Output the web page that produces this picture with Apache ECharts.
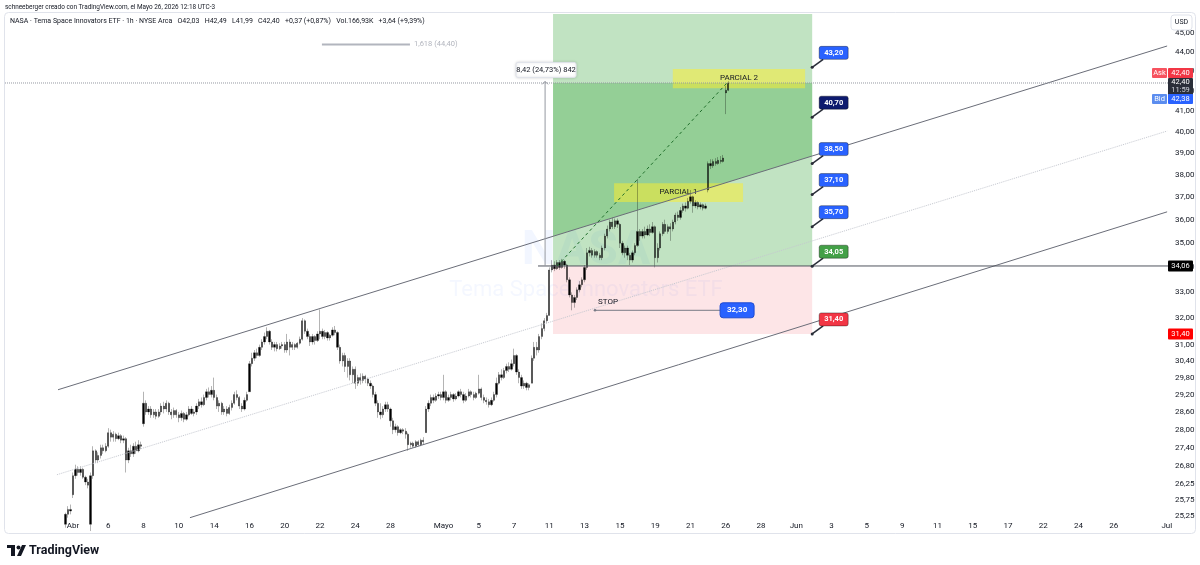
<!DOCTYPE html>
<html>
<head>
<meta charset="utf-8">
<title>NASA - Tema Space Innovators ETF 1h</title>
<script src="https://cdn.jsdelivr.net/npm/echarts@6/dist/echarts.min.js"></script>
<style>
  html, body { margin: 0; padding: 0; background: #fff; }
  #chart { width: 1200px; height: 565px; }
</style>
</head>
<body>
<div id="chart"></div>
<script>
// hourly bars, 7 per session, [open, close, low, high]; first session = Mar 31 (day -1)
const firstDay = -1;
const sessions = [
  // Mar 31
  [[24.3,24.5,24.2,24.6],[24.5,24.4,24.3,24.7],[24.4,24.8,24.3,24.9],[24.8,25.0,24.7,25.1],[25.0,25.3,24.9,25.35],[25.3,25.45,25.2,25.55],[25.45,25.4,25.3,25.6]],
  // Apr 1
  [[25.9,26.5,25.8,26.6],[26.5,26.7,26.4,26.85],[26.7,26.6,26.5,26.8],[26.6,26.7,26.5,26.8],[26.7,26.45,26.4,26.75],[26.45,26.3,26.2,26.5],[26.3,26.2,26.1,26.4]],
  // Apr 2
  [[25.0,26.5,24.8,26.6],[26.5,27.3,26.4,27.45],[27.3,27.0,26.9,27.35],[27.0,27.15,26.9,27.25],[27.15,27.4,27.05,27.5],[27.4,27.3,27.2,27.5],[27.3,27.45,27.25,27.55]],
  // Apr 6
  [[27.45,27.9,27.4,28.05],[27.9,27.75,27.6,28.0],[27.75,27.85,27.6,27.95],[27.85,27.7,27.6,27.9],[27.7,27.8,27.65,27.9],[27.8,27.65,27.55,27.85],[27.65,27.7,27.55,27.8]],
  // Apr 7
  [[27.7,27.0,26.6,27.75],[27.0,27.3,26.9,27.4],[27.3,27.2,27.1,27.5],[27.2,27.45,27.1,27.55],[27.45,27.3,27.2,27.6],[27.3,27.5,27.25,27.65],[27.5,27.45,27.35,27.6]],
  // Apr 8
  [[28.2,28.9,28.1,29.3],[28.9,28.6,28.5,29.0],[28.6,28.7,28.5,28.8],[28.7,28.5,28.4,28.8],[28.5,28.6,28.4,28.7],[28.6,28.45,28.35,28.7],[28.45,28.6,28.4,28.7]],
  // Apr 9
  [[28.6,28.8,28.5,28.9],[28.8,28.7,28.55,28.95],[28.7,28.9,28.6,29.0],[28.9,28.6,28.5,28.95],[28.6,28.5,28.35,28.7],[28.5,28.65,28.4,28.75],[28.65,28.5,28.4,28.7]],
  // Apr 10
  [[28.5,28.4,28.25,28.6],[28.4,28.55,28.3,28.65],[28.55,28.35,28.25,28.6],[28.35,28.5,28.3,28.6],[28.5,28.7,28.45,28.8],[28.7,28.55,28.5,28.8],[28.55,28.6,28.45,28.7]],
  // Apr 13
  [[28.6,28.8,28.5,28.9],[28.8,28.95,28.7,29.05],[28.95,28.85,28.75,29.1],[28.85,29.1,28.8,29.2],[29.1,29.3,29.0,29.4],[29.3,29.2,29.1,29.45],[29.2,29.35,29.1,29.5]],
  // Apr 14
  [[29.35,29.1,29.0,29.8],[29.1,28.8,28.7,29.2],[28.8,28.9,28.6,29.0],[28.9,28.6,28.5,28.95],[28.6,28.7,28.5,28.8],[28.7,28.55,28.45,28.8],[28.55,28.75,28.5,28.85]],
  // Apr 15
  [[28.75,28.9,28.65,29.0],[28.9,29.2,28.85,29.3],[29.2,29.1,29.0,29.35],[29.1,28.8,28.7,29.15],[28.8,28.7,28.6,28.9],[28.7,29.0,28.65,29.1],[29.0,29.2,28.95,29.3]],
  // Apr 16
  [[29.3,30.3,29.3,30.4],[30.3,30.5,30.2,30.7],[30.5,30.7,30.4,30.8],[30.7,30.6,30.5,30.85],[30.6,30.9,30.55,31.0],[30.9,31.1,30.8,31.2],[31.1,31.3,31.0,31.45]],
  // Apr 17
  [[31.3,31.5,31.2,31.65],[31.5,31.1,31.0,31.55],[31.1,30.9,30.8,31.2],[30.9,31.0,30.75,31.1],[31.0,30.85,30.75,31.1],[30.85,30.95,30.8,31.05],[30.95,31.0,30.85,31.1]],
  // Apr 20
  [[31.0,30.8,30.7,31.1],[30.8,31.1,30.7,31.4],[31.1,30.9,30.6,31.2],[30.9,31.0,30.8,31.1],[31.0,30.9,30.8,31.05],[30.9,31.05,30.85,31.1],[31.05,31.2,31.0,31.3]],
  // Apr 21
  [[31.2,31.9,31.15,32.0],[31.9,31.5,31.4,31.95],[31.5,31.3,31.2,31.6],[31.3,31.1,30.95,31.4],[31.1,31.3,31.0,31.4],[31.3,31.15,31.0,31.35],[31.15,31.4,31.1,31.5]],
  // Apr 22
  [[31.4,31.5,31.2,32.33],[31.5,31.3,31.2,31.6],[31.3,31.45,31.2,31.55],[31.45,31.25,31.15,31.5],[31.25,31.35,31.15,31.4],[31.35,31.55,31.3,31.65],[31.55,31.45,31.35,31.7]],
  // Apr 23
  [[31.45,30.9,30.8,31.5],[30.9,30.4,30.3,31.0],[30.4,30.6,30.2,30.7],[30.6,30.2,30.0,30.7],[30.2,30.4,29.8,30.5],[30.4,29.9,29.7,30.5],[29.9,30.1,29.6,30.2]],
  // Apr 24
  [[30.1,29.6,29.4,30.2],[29.6,29.8,29.5,29.9],[29.8,29.7,29.55,29.95],[29.7,29.85,29.6,29.95],[29.85,29.75,29.6,29.9],[29.75,29.6,29.5,29.8],[29.6,29.5,29.4,29.7]],
  // Apr 27
  [[29.5,29.2,29.1,29.55],[29.2,28.9,28.8,29.3],[28.9,28.6,28.4,29.0],[28.6,28.5,28.35,28.9],[28.5,28.7,28.4,28.8],[28.7,28.85,28.6,28.95],[28.85,28.7,28.6,28.95]],
  // Apr 28
  [[28.7,28.3,28.1,28.75],[28.3,28.0,27.85,28.4],[28.0,28.1,27.9,28.2],[28.1,27.9,27.8,28.15],[27.9,28.0,27.85,28.05],[28.0,27.95,27.85,28.05],[27.95,27.85,27.7,28.05]],
  // Apr 29
  [[27.85,27.5,27.3,27.9],[27.5,27.55,27.4,27.6],[27.55,27.45,27.4,27.6],[27.45,27.6,27.4,27.65],[27.6,27.5,27.45,27.65],[27.5,27.65,27.45,27.7],[27.65,27.6,27.5,27.75]],
  // Apr 30
  [[27.9,28.7,27.9,28.8],[28.7,28.9,28.6,29.0],[28.9,29.1,28.8,29.2],[29.1,29.0,28.9,29.2],[29.0,29.15,28.95,29.25],[29.15,29.2,29.05,29.3],[29.2,29.1,29.0,29.3]],
  // May 1
  [[29.1,29.3,29.0,29.9],[29.3,29.0,28.9,29.35],[29.0,29.1,28.95,29.2],[29.1,29.2,29.0,29.3],[29.2,29.05,28.95,29.25],[29.05,29.15,29.0,29.25],[29.15,29.3,29.1,29.35]],
  // May 4
  [[29.3,29.2,29.1,29.4],[29.2,29.0,28.9,29.3],[29.0,29.15,28.95,29.25],[29.15,29.3,29.1,29.4],[29.3,29.2,29.1,29.35],[29.2,29.1,29.0,29.3],[29.1,29.25,29.05,29.3]],
  // May 5
  [[29.25,29.4,29.2,29.9],[29.4,29.1,29.0,29.45],[29.1,29.0,28.9,29.2],[29.0,28.95,28.85,29.1],[28.95,28.85,28.75,29.05],[28.85,29.0,28.8,29.1],[29.0,29.2,28.95,29.3]],
  // May 6
  [[29.2,29.6,29.1,29.8],[29.6,29.9,29.55,30.0],[29.9,29.8,29.7,30.1],[29.8,30.05,29.75,30.15],[30.05,30.2,29.95,30.3],[30.2,30.1,30.0,30.35],[30.1,30.3,30.05,30.45]],
  // May 7
  [[30.3,30.6,30.2,30.85],[30.6,30.0,29.9,30.65],[30.0,29.8,29.6,30.1],[29.8,29.5,29.4,29.9],[29.5,29.6,29.4,29.7],[29.6,29.45,29.35,29.65],[29.45,29.55,29.35,29.6]],
  // May 8
  [[29.6,30.5,29.6,30.6],[30.5,30.9,30.4,31.1],[30.9,30.8,30.6,31.1],[30.8,31.3,30.7,31.4],[31.3,31.6,31.2,31.8],[31.6,31.9,31.5,32.0],[31.9,32.1,31.8,32.2]],
  // May 11
  [[32.1,33.9,32.1,34.0],[33.9,34.1,33.8,34.3],[34.1,33.95,33.85,34.25],[33.95,34.2,33.9,34.3],[34.2,34.0,33.9,34.3],[34.0,34.25,33.95,34.35],[34.25,34.1,33.95,34.3]],
  // May 12
  [[34.1,33.5,33.4,34.15],[33.5,32.9,32.8,33.6],[32.9,32.6,32.3,33.0],[32.6,32.8,32.4,32.9],[32.8,33.1,32.7,33.2],[33.1,33.3,33.0,33.45],[33.3,33.5,33.2,33.6]],
  // May 13
  [[33.5,34.0,33.4,34.1],[34.0,34.6,33.9,34.8],[34.6,34.7,34.45,34.85],[34.7,34.5,34.4,34.8],[34.5,34.65,34.4,34.75],[34.65,34.5,34.4,34.7],[34.5,34.4,34.3,34.6]],
  // May 14
  [[34.4,34.8,34.3,34.9],[34.8,35.3,34.7,35.4],[35.3,35.6,35.2,35.75],[35.6,35.9,35.5,36.0],[35.9,35.7,35.6,36.1],[35.7,35.95,35.6,36.05],[35.95,35.8,35.65,36.05]],
  // May 15
  [[35.8,35.0,34.8,35.85],[35.0,34.6,34.5,35.1],[34.6,34.8,34.4,34.9],[34.8,34.5,34.3,34.9],[34.5,34.3,34.1,34.6],[34.3,34.6,34.2,34.7],[34.6,34.9,34.5,35.0]],
  // May 18
  [[34.9,35.5,34.85,37.8],[35.5,35.3,35.1,35.6],[35.3,35.5,35.2,35.6],[35.5,35.35,35.2,35.7],[35.35,35.6,35.3,35.75],[35.6,35.45,35.3,35.8],[35.45,35.7,35.4,35.9]],
  // May 19
  [[35.7,34.4,34.0,35.75],[34.4,34.8,34.2,35.0],[34.8,35.4,34.7,35.5],[35.4,35.8,35.3,35.9],[35.8,35.5,35.4,36.0],[35.5,35.7,35.4,35.8],[35.7,35.6,35.1,35.85]],
  // May 20
  [[35.6,35.9,35.5,36.0],[35.9,36.2,35.8,36.3],[36.2,36.1,35.95,36.35],[36.1,36.4,36.0,36.55],[36.4,36.6,36.3,36.7],[36.6,36.5,36.35,36.75],[36.5,36.8,36.45,36.95]],
  // May 21
  [[36.8,37.0,36.7,37.3],[37.0,36.6,36.3,37.05],[36.6,36.75,36.5,36.85],[36.75,36.55,36.45,36.8],[36.55,36.65,36.45,36.75],[36.65,36.5,36.4,36.7],[36.5,36.6,36.45,36.7]],
  // May 22
  [[37.3,38.5,37.2,38.6],[38.5,38.4,38.25,38.7],[38.4,38.6,38.3,38.7],[38.6,38.5,38.4,38.75],[38.5,38.65,38.45,38.8],[38.65,38.6,38.5,38.85],[38.6,38.76,38.55,38.9]],
  // May 26
  [[41.9,42.03,40.85,42.25],[42.03,42.40,41.99,42.49]]
];

// time axis: trading-day index -> label
const tickDays  = [0, 2, 4, 6, 8, 10, 12, 14, 16, 18, 21, 23, 25, 27, 29, 31, 33, 35, 37, 39, 41, 43, 45, 47, 49, 51, 53, 55, 57, 59, 62];
const tickNames = ['Abr','6','8','10','14','16','20','22','24','28','Mayo','5','7','11','13','15','19','21','26','28','Jun','3','5','9','11','15','17','22','24','26','Jul'];
// price axis labels (log scale)
const priceTicks = [45, 44, 43, 42, 41, 40, 39, 38, 37, 36, 35, 34, 33, 32, 31, 30.4, 29.8, 29.2, 28.6, 28, 27.4, 26.8, 26.25, 25.75, 25.25];

// drawings (day index, price)
const channelUpper = [[-0.85, 29.37], [62.02, 44.32]];
const channelMid   = [[-0.91, 26.53], [62.02, 40.03]];
const channelLower = [[6.63, 25.20], [62.02, 36.34]];
const posStart = 27.21, posEnd = 41.9;
const posEntry = 34.06, posStop = 31.40, posTarget = 47.5;
const lastPrice = 42.40, bidPrice = 42.38;
const entryRayStart = 26.36;
const pathLine = [[27.44, 34.06], [37.07, 42.40]];
const measureDay = 26.76, measureTop = 42.48;
const measureText = '8,42 (24,73%) 842';
const partial2 = [[34.0, 42.13], [41.5, 43.11]];
const partial1 = [[30.67, 36.77], [37.98, 37.61]];
const stopLine = [[29.59, 32.30], [36.68, 32.30]];
const fibLine = [[14.11, 44.40], [19.1, 44.40]];
const fibText = '1,618 (44,40)';
const calloutPrices = [43.20, 40.70, 38.50, 37.10, 35.70, 34.05, 31.40];
const calloutColors = ['#2962ff', '#0d1a6e', '#2962ff', '#2962ff', '#2962ff', '#43a047', '#f23645'];

const xMin = -3.855, xMax = 62.07;
const pMin = 25.16, pMax = 46.05;

const L = Math.log;
const fmt = v => v.toFixed(2).replace('.', ',');
const FONT = 'Roboto, "Liberation Sans", sans-serif';

const bars = [];
sessions.forEach((day, d) => {
  day.forEach((b, k) => {
    bars.push([firstDay + d + k / 7, L(b[0]), L(b[1]), L(b[2]), L(b[3])]);
  });
});

const seg = (a, b) => [[a[0], L(a[1])], [b[0], L(b[1])]];

function lineSeries(data, color, width, type, z) {
  return {
    type: 'line', data: data, symbol: 'none', silent: true, animation: false, z: z || 3,
    lineStyle: { color: color, width: width, type: type || 'solid' }
  };
}

function boxesRender(params, api) {
  const cs = params.coordSys;
  const P = (d, v) => api.coord([d, L(v)]);
  const tl = P(posStart, posTarget), br = P(posEnd, posEntry);
  const top = Math.max(tl[1], cs.y);
  const stopB = P(posEnd, posStop);
  const cur = P(posEnd, lastPrice);
  const u0 = P(channelUpper[0][0], channelUpper[0][1]);
  const u1 = P(channelUpper[1][0], channelUpper[1][1]);
  const chanY = x => u0[1] + (u1[1] - u0[1]) * (x - u0[0]) / (u1[0] - u0[0]);
  const x0 = tl[0], x1 = br[0];
  const ch = [];
  ch.push({ type: 'rect', shape: { x: x0, y: top, width: x1 - x0, height: br[1] - top }, style: { fill: 'rgba(76,175,80,0.35)' } });
  ch.push({ type: 'polygon', shape: { points: [[x0, cur[1]], [x1, cur[1]], [x1, Math.min(chanY(x1), br[1])], [x0, Math.min(chanY(x0), br[1])]] }, style: { fill: 'rgba(76,175,80,0.38)' } });
  ch.push({ type: 'rect', shape: { x: x0, y: br[1], width: x1 - x0, height: stopB[1] - br[1] }, style: { fill: 'rgba(242,54,69,0.13)' } });
  [partial2, partial1].forEach((z, i) => {
    const a = P(z[0][0], z[1][1]), b = P(z[1][0], z[0][1]);
    ch.push({ type: 'rect', shape: { x: a[0], y: a[1], width: b[0] - a[0], height: b[1] - a[1] }, style: { fill: 'rgba(255,240,40,0.5)' } });
    ch.push({ type: 'text', style: { text: i === 0 ? 'PARCIAL 2' : 'PARCIAL 1', x: (a[0] + b[0]) / 2, y: (a[1] + b[1]) / 2 - 1, fill: '#131722', font: '8px ' + FONT, align: 'center', verticalAlign: 'middle' } });
  });
  return { type: 'group', children: ch };
}

function overlayRender(params, api) {
  const P = (d, v) => api.coord([d, L(v)]);
  const ch = [];
  // measure tool
  const mb = P(measureDay, posEntry), mt = P(measureDay, measureTop);
  ch.push({ type: 'line', shape: { x1: mb[0], y1: mb[1], x2: mt[0], y2: mt[1] }, style: { stroke: '#9598a1', lineWidth: 1 } });
  ch.push({ type: 'polyline', shape: { points: [[mt[0] - 3, mt[1] + 3], [mt[0], mt[1]], [mt[0] + 3, mt[1] + 3]] }, style: { stroke: '#9598a1', lineWidth: 1, fill: 'none' } });
  ch.push({ type: 'rect', shape: { x: mt[0] - 29, y: mt[1] - 19, width: 60, height: 15, r: 2 }, style: { fill: '#fff', stroke: '#e0e3eb', lineWidth: 1, shadowBlur: 3, shadowColor: 'rgba(0,0,0,0.15)' } });
  ch.push({ type: 'text', style: { text: measureText, x: mt[0] + 1, y: mt[1] - 11.5, fill: '#131722', font: '7.5px ' + FONT, align: 'center', verticalAlign: 'middle' } });
  // stop label
  const s0 = P(stopLine[0][0], stopLine[0][1]), s1 = P(stopLine[1][0], stopLine[1][1]);
  ch.push({ type: 'circle', shape: { cx: s0[0], cy: s0[1], r: 1.3 }, style: { fill: '#787b86' } });
  ch.push({ type: 'text', style: { text: 'STOP', x: s0[0] + 3, y: s0[1] - 8, fill: '#131722', font: '8px ' + FONT, align: 'left', verticalAlign: 'middle' } });
  ch.push({ type: 'rect', shape: { x: s1[0], y: s1[1] - 7.5, width: 34, height: 15, r: 3 }, style: { fill: '#2962ff', stroke: '#1e4bd2', lineWidth: 1 } });
  ch.push({ type: 'text', style: { text: fmt(stopLine[0][1]), x: s1[0] + 17, y: s1[1], fill: '#fff', font: 'bold 8px ' + FONT, align: 'center', verticalAlign: 'middle' } });
  // fib label
  const f1 = P(fibLine[1][0], fibLine[1][1]);
  ch.push({ type: 'text', style: { text: fibText, x: f1[0] + 4, y: f1[1], fill: '#b2b5be', font: '7.5px ' + FONT, align: 'left', verticalAlign: 'middle' } });
  return { type: 'group', children: ch };
}

function calloutRender(params, api) {
  const p = api.coord([api.value(0), api.value(1)]);
  const c = calloutColors[params.dataIndex];
  const bx = p[0] + 7, by = p[1] - 21;
  return { type: 'group', children: [
    { type: 'line', shape: { x1: p[0], y1: p[1], x2: bx + 4, y2: by + 13 }, style: { stroke: '#2a2e39', lineWidth: 1.5 } },
    { type: 'circle', shape: { cx: p[0], cy: p[1], r: 1.5 }, style: { fill: '#2a2e39' } },
    { type: 'rect', shape: { x: bx, y: by, width: 29, height: 13, r: 2 }, style: { fill: c, stroke: 'rgba(0,0,0,0.35)', lineWidth: 1 } },
    { type: 'text', style: { text: fmt(Math.exp(api.value(1))), x: bx + 14.5, y: by + 6.5, fill: '#fff', font: 'bold 7.5px ' + FONT, align: 'center', verticalAlign: 'middle' } }
  ] };
}

function tagsRender(params, api) {
  const cs = params.coordSys;
  const x = cs.x + cs.width;
  const P = v => api.coord([posEnd, L(v)])[1];
  const ch = [];
  const tag = (y, h, bg, text, xx, w) => {
    ch.push({ type: 'rect', shape: { x: xx, y: y - h / 2, width: w, height: h, r: 1 }, style: { fill: bg } });
    ch.push({ type: 'text', style: { text: text, x: xx + w / 2, y: y, fill: '#fff', font: '7.5px ' + FONT, align: 'center', verticalAlign: 'middle' } });
  };
  const yc = P(lastPrice);
  tag(yc - 10, 10, '#f7525f', 'Ask', x - 16, 15);
  tag(yc - 10, 10, '#f23645', fmt(lastPrice), x, 25);
  ch.push({ type: 'rect', shape: { x: x, y: yc - 5, width: 25, height: 17, r: 1 }, style: { fill: '#2a2e39' } });
  ch.push({ type: 'text', style: { text: fmt(lastPrice), x: x + 12.5, y: yc - 0.5, fill: '#fff', font: '7.5px ' + FONT, align: 'center', verticalAlign: 'middle' } });
  ch.push({ type: 'text', style: { text: '11:59', x: x + 12.5, y: yc + 7, fill: '#d1d4dc', font: '7.5px ' + FONT, align: 'center', verticalAlign: 'middle' } });
  tag(yc + 16, 10, '#5b8def', 'Bid', x - 16, 15);
  tag(yc + 16, 10, '#2962ff', fmt(bidPrice), x, 25);
  tag(P(posEntry), 11, '#000', fmt(posEntry), x, 25);
  tag(P(posStop), 11, '#f00', fmt(posStop), x, 25);
  // currency box
  ch.push({ type: 'rect', shape: { x: x + 3, y: cs.y + 1, width: 21, height: 15, r: 3 }, style: { fill: '#fff', stroke: '#e0e3eb', lineWidth: 1 } });
  ch.push({ type: 'text', style: { text: 'USD', x: x + 13.5, y: cs.y + 8.5, fill: '#131722', font: '7px ' + FONT, align: 'center', verticalAlign: 'middle' } });
  return { type: 'group', children: ch };
}

const chart = echarts.init(document.getElementById('chart'));
chart.setOption({
  animation: false,
  backgroundColor: '#fff',
  grid: { left: 5, right: 32, top: 14, bottom: 46, containLabel: false, outerBoundsMode: 'none' },
  xAxis: {
    type: 'value', min: xMin, max: xMax,
    axisLine: { show: false }, axisTick: { show: false }, splitLine: { show: false },
    axisLabel: {
      customValues: tickDays,
      formatter: v => tickNames[tickDays.indexOf(v)] || '',
      color: '#131722', fontSize: 8, fontFamily: FONT, margin: 3
    }
  },
  yAxis: {
    type: 'value', position: 'right', min: L(pMin), max: L(pMax),
    axisLine: { show: false }, axisTick: { show: false }, splitLine: { show: false },
    axisLabel: {
      customValues: priceTicks.map(L),
      formatter: v => fmt(Math.exp(v)),
      color: '#131722', fontSize: 8, fontFamily: FONT, margin: 7
    }
  },
  graphic: [
    { type: 'text', x: 586, y: 252, z: 0, silent: true, style: { text: 'NASA', fill: 'rgba(42,98,255,0.06)', font: 'bold 48px ' + FONT, align: 'center', verticalAlign: 'middle' } },
    { type: 'text', x: 586, y: 290, z: 0, silent: true, style: { text: 'Tema Space Innovators ETF', fill: 'rgba(42,98,255,0.05)', font: '22px ' + FONT, align: 'center', verticalAlign: 'middle' } },
    { type: 'rect', z: 10, silent: true, shape: { x: 4.5, y: 12.5, width: 1191, height: 521, r: 4 }, style: { fill: 'none', stroke: '#e0e3eb', lineWidth: 1 } },
    { type: 'text', x: 5, y: 7, z: 10, style: { text: 'schneeberger creado con TradingView.com, el Mayo 26, 2026 12:18 UTC-3', fill: '#131722', font: '6.4px ' + FONT, align: 'left', verticalAlign: 'middle' } },
    { type: 'text', x: 10, y: 21, z: 10, style: { text: 'NASA · Tema Space Innovators ETF · 1h · NYSE Arca   O42,03   H42,49   L41,99   C42,40   +0,37 (+0,87%)   Vol.166,93K   +3,64 (+9,39%)', fill: '#131722', font: '7px ' + FONT, align: 'left', verticalAlign: 'middle' } },
    { type: 'rect', z: 10, shape: { x: 7, y: 545, width: 8, height: 3 }, style: { fill: '#131722' } },
    { type: 'rect', z: 10, shape: { x: 11, y: 545, width: 4, height: 11 }, style: { fill: '#131722' } },
    { type: 'circle', z: 10, shape: { cx: 18.5, cy: 547.5, r: 2 }, style: { fill: '#131722' } },
    { type: 'polygon', z: 10, shape: { points: [[17, 556], [22, 545], [26, 545], [21, 556]] }, style: { fill: '#131722' } },
    { type: 'text', x: 29, y: 550.5, z: 10, style: { text: 'TradingView', fill: '#131722', font: 'bold 12.5px ' + FONT, align: 'left', verticalAlign: 'middle' } }
  ],
  series: [
    { type: 'custom', renderItem: boxesRender, data: [[posStart, L(posEntry)]], z: 1, silent: true, clip: true },
    {
      type: 'candlestick', data: bars, barWidth: 1.8, z: 2, silent: true, clip: true,
      itemStyle: { color: '#000', color0: '#000', borderColor: '#000', borderColor0: '#000', borderWidth: 0.3 }
    },
    lineSeries(seg(channelUpper[0], channelUpper[1]), '#6a6d78', 1),
    lineSeries(seg(channelLower[0], channelLower[1]), '#6a6d78', 1),
    lineSeries(seg(channelMid[0], channelMid[1]), '#c5c8d0', 1, 'dotted'),
    lineSeries(seg([xMin, lastPrice], [xMax, lastPrice]), '#9598a1', 1, 'dotted'),
    lineSeries(seg([entryRayStart, posEntry], [xMax, posEntry]), '#50535e', 1),
    lineSeries(seg(pathLine[0], pathLine[1]), '#1f6e2a', 1, [3, 3]),
    lineSeries(seg(stopLine[0], stopLine[1]), '#787b86', 1),
    lineSeries(seg(fibLine[0], fibLine[1]), '#b2b5be', 2),
    { type: 'custom', renderItem: overlayRender, data: [[posStart, L(posEntry)]], z: 4, silent: true },
    { type: 'custom', renderItem: calloutRender, data: calloutPrices.map(p => [posEnd, L(p)]), z: 4, silent: true },
    { type: 'custom', renderItem: tagsRender, data: [[posEnd, L(lastPrice)]], z: 5, silent: true }
  ]
});
</script>
</body>
</html>
